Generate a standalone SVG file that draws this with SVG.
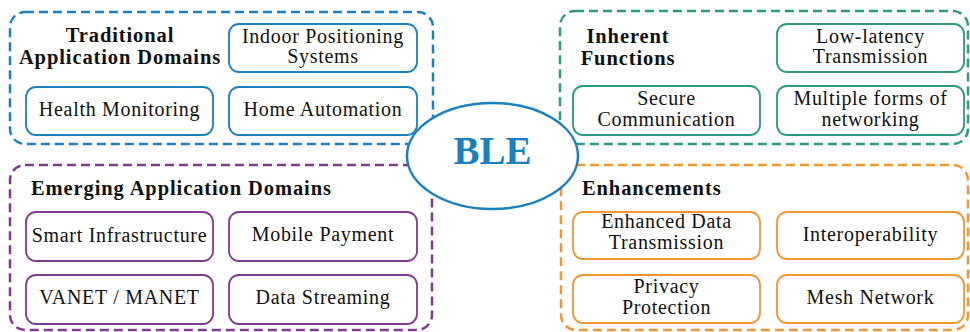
<svg xmlns="http://www.w3.org/2000/svg" width="970" height="332" viewBox="0 0 970 332">
<style>
text{font-family:"Liberation Serif","DejaVu Serif",serif;fill:#111;}
.lbl{font-size:20px;text-anchor:middle;letter-spacing:0.7px;}
.ttl{font-size:20.5px;font-weight:bold;letter-spacing:0.9px;}
.grp{fill:none;stroke-width:2.5;stroke-dasharray:9,5;}
.node{fill:#fff;stroke-width:1.8;}
.blue{stroke:#1b80c0;}
.green{stroke:#2a9a80;}
.purple{stroke:#7d3c8c;}
.orange{stroke:#f29630;}
</style>
<rect width="970" height="332" fill="#fff"/>
<g id="traditional">
<rect class="grp blue" x="10" y="12" width="423" height="132" rx="15"/>
<text class="ttl" x="120" y="42" text-anchor="middle">Traditional</text>
<text class="ttl" x="120" y="64" text-anchor="middle">Application Domains</text>
</g>
<g id="inherent">
<rect class="grp green" x="560" y="11" width="408" height="133" rx="15"/>
<text class="ttl" x="628" y="43" text-anchor="middle">Inherent</text>
<text class="ttl" x="628" y="65" text-anchor="middle">Functions</text>
</g>
<g id="emerging">
<rect class="grp purple" x="10" y="165" width="422" height="165" rx="15"/>
<text class="ttl" x="31" y="195">Emerging Application Domains</text>
</g>
<g id="enhancements">
<rect class="grp orange" x="561" y="165" width="407" height="165" rx="15"/>
<text class="ttl" x="582" y="195">Enhancements</text>
</g>
<g id="indoor-positioning"><rect class="node blue" x="229" y="24" width="188" height="48" rx="10"/><text class="lbl" x="323" y="43">Indoor Positioning</text><text class="lbl" x="323" y="63">Systems</text></g>
<g id="health-monitoring"><rect class="node blue" x="26" y="87" width="187" height="48" rx="10"/><text class="lbl" x="119.5" y="116">Health Monitoring</text></g>
<g id="home-automation"><rect class="node blue" x="229" y="87" width="188" height="48" rx="10"/><text class="lbl" x="323" y="116">Home Automation</text></g>
<g id="low-latency"><rect class="node green" x="777" y="24" width="187" height="48" rx="10"/><text class="lbl" x="870.5" y="43">Low-latency</text><text class="lbl" x="870.5" y="63">Transmission</text></g>
<g id="secure-communication"><rect class="node green" x="573" y="86" width="187" height="49" rx="10"/><text class="lbl" x="666.5" y="105">Secure</text><text class="lbl" x="666.5" y="126">Communication</text></g>
<g id="multiple-networking"><rect class="node green" x="777" y="86" width="187" height="49" rx="10"/><text class="lbl" x="870.5" y="105">Multiple forms of</text><text class="lbl" x="870.5" y="126">networking</text></g>
<g id="smart-infrastructure"><rect class="node purple" x="26" y="212" width="187" height="49" rx="10"/><text class="lbl" x="119.5" y="242">Smart Infrastructure</text></g>
<g id="mobile-payment"><rect class="node purple" x="229" y="212" width="188" height="49" rx="10"/><text class="lbl" x="323" y="241">Mobile Payment</text></g>
<g id="vanet-manet"><rect class="node purple" x="26" y="275" width="187" height="49" rx="10"/><text class="lbl" x="119.5" y="304">VANET / MANET</text></g>
<g id="data-streaming"><rect class="node purple" x="229" y="275" width="188" height="49" rx="10"/><text class="lbl" x="323" y="304">Data Streaming</text></g>
<g id="enhanced-data"><rect class="node orange" x="573" y="212" width="187" height="47" rx="10"/><text class="lbl" x="666.5" y="228">Enhanced Data</text><text class="lbl" x="666.5" y="249">Transmission</text></g>
<g id="interoperability"><rect class="node orange" x="777" y="212" width="187" height="47" rx="10"/><text class="lbl" x="870.5" y="241">Interoperability</text></g>
<g id="privacy-protection"><rect class="node orange" x="573" y="275" width="187" height="48" rx="10"/><text class="lbl" x="666.5" y="293">Privacy</text><text class="lbl" x="666.5" y="314">Protection</text></g>
<g id="mesh-network"><rect class="node orange" x="777" y="275" width="187" height="48" rx="10"/><text class="lbl" x="870.5" y="304">Mesh Network</text></g>
<g id="ble">
<ellipse cx="492.5" cy="156" rx="85.5" ry="53" fill="#fff" stroke="#1b80c0" stroke-width="2.5"/>
<text x="492.5" y="164" text-anchor="middle" style="font-size:39px;font-weight:bold;fill:#1b80c0">BLE</text>
</g>
<g id="connectors"></g>
</svg>
